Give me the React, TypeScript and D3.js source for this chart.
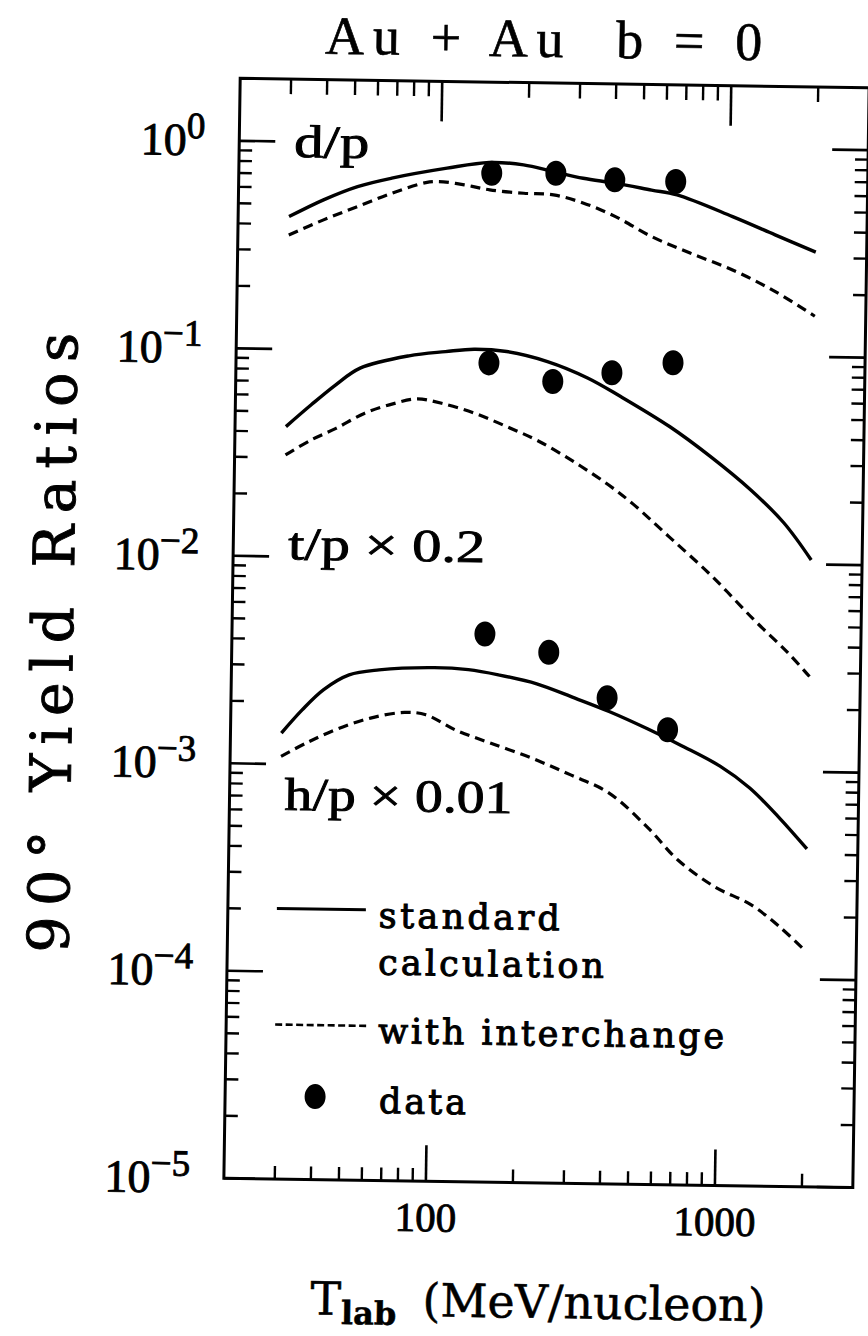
import React from "react";
import * as d3 from "d3";

// Beam energies of the measured points (MeV/nucleon)
const dataEnergies = [150, 250, 400, 650];

// Measured 90° yield ratios
const dpData = [0.728, 0.735, 0.69, 0.684];
const tpData = [0.0887, 0.0729, 0.0811, 0.0915];
const hpData = [0.00438, 0.00361, 0.0022, 0.00156];

// Model curves: [T_lab, ratio]
const dpStandard: [number, number][] = [
  [30, 0.435], [39.4, 0.527], [51.6, 0.614], [67.7, 0.678], [105, 0.764],
  [147, 0.819], [193, 0.803], [245, 0.749], [311, 0.699], [402, 0.665],
  [537, 0.62], [658, 0.59], [1027, 0.468], [1444, 0.385], [2000, 0.32],
];
const dpInterchange: [number, number][] = [
  [30, 0.355], [39.5, 0.422], [51.7, 0.492], [68, 0.574], [88.8, 0.649],
  [98.4, 0.658], [120.7, 0.637], [148, 0.605], [194, 0.586], [246, 0.578],
  [313, 0.53], [404, 0.459], [540, 0.37], [735, 0.31], [1033, 0.259],
  [1456, 0.205], [2000, 0.157],
];
const tpStandard: [number, number][] = [
  [30, 0.0423], [36.6, 0.0541], [44.4, 0.0678], [53.8, 0.0819], [79.3, 0.0947],
  [106, 0.0998], [133, 0.103], [172.5, 0.1009], [239, 0.0909], [331, 0.0761],
  [430, 0.0624], [637, 0.0451], [884, 0.0326], [1226, 0.0226], [1600, 0.0158],
  [2000, 0.0105],
];
const tpInterchange: [number, number][] = [
  [30, 0.0309], [36.8, 0.0367], [44.7, 0.0418], [55.9, 0.0496], [70.1, 0.0554],
  [85, 0.0588], [103.4, 0.0562], [134, 0.0507], [174, 0.0439], [226, 0.0374],
  [303.5, 0.0296], [394, 0.0234], [480, 0.019], [642, 0.0133], [911, 0.0086],
  [1276, 0.00536], [1682, 0.00373], [2000, 0.00288],
];
const hpStandard: [number, number][] = [
  [30, 0.00141], [35.3, 0.00183], [41.8, 0.0023], [51.1, 0.00272], [64.8, 0.00289],
  [100.6, 0.00299], [132, 0.00294], [167.8, 0.00279], [228, 0.00254], [309.7, 0.00218],
  [407, 0.00189], [553.6, 0.00157], [728, 0.00131], [991, 0.00105], [1259, 0.000828],
  [1602, 0.000596], [2000, 0.000425],
];
const hpInterchange: [number, number][] = [
  [30, 0.00109], [36.7, 0.00127], [46.4, 0.00148], [60.9, 0.00169], [79.8, 0.00181],
  [94.6, 0.00177], [120.2, 0.0015], [157.9, 0.00131], [222, 0.00111], [302, 0.00093],
  [411, 0.000765], [565, 0.00052], [715, 0.000369], [960, 0.000276], [1288, 0.000227],
  [1619, 0.000179], [2000, 0.000137],
];

// Axis ticks
const xMajor = [100, 1000];
const xMinor = [30, 40, 50, 60, 70, 80, 90, 200, 300, 400, 500, 600, 700, 800, 900, 2000];
const yExponents = [0, -1, -2, -3, -4, -5];
const yMinorFactors = [2, 3, 4, 5, 6, 7, 8, 9];

// Curve names, anchored at (T, ratio) in data space
const curveLabels = [
  { text: "d/p", t: 31, v: 0.844, len: 75 },
  { text: "t/p × 0.2", t: 31, v: 0.00972, len: 197 },
  { text: "h/p × 0.01", t: 31, v: 0.000603, len: 228 },
];

const W = 868;
const H = 1336;
const left = 232;
const right = 861;
const top = 83;
const bottom = 1183;
const ROT = 0.85;

const x = d3.scaleLog().domain([20, 3000]).range([left, right]);
const y = d3.scaleLog().domain([1e-5, 2]).range([bottom, top]);

const serif = "'Liberation Serif', 'Times New Roman', serif";
const slab = "'DejaVu Serif', serif";

export default function App() {
  const line = d3
    .line<[number, number]>()
    .x((d) => x(d[0]))
    .y((d) => y(d[1]))
    .curve(d3.curveCatmullRom.alpha(0.5));

  const yMinor: number[] = [];
  for (let e = -5; e < 0; e++) {
    for (const k of yMinorFactors) yMinor.push(k * Math.pow(10, e));
  }

  const majLen = 36;
  const minLen = 13;

  const solids = [dpStandard, tpStandard, hpStandard];
  const dashes = [dpInterchange, tpInterchange, hpInterchange];
  const dots = [dpData, tpData, hpData];

  const legendText = (label: string, tx: number, ty: number, len: number) => (
    <text
      x={tx}
      y={ty}
      fontFamily={slab}
      fontSize={35}
      textLength={len}
      lengthAdjust="spacing"
      stroke="#000"
      strokeWidth={1}
    >
      {label}
    </text>
  );

  return (
    <svg
      width={W}
      height={H}
      style={{ position: "absolute", left: 0, top: 0, background: "#fff" }}
    >
      <rect width={W} height={H} fill="#fff" />
      <g transform={`rotate(${ROT} 547 633)`} fill="#000">
        {/* title */}
        <text
          x={535}
          y={57}
          textAnchor="middle"
          fontFamily={serif}
          fontSize={54}
          xmlSpace="preserve"
          textLength={437}
          lengthAdjust="spacing"
          stroke="#000"
          strokeWidth={0.6}
        >
          {"Au + Au  b = 0"}
        </text>

        {/* frame */}
        <rect
          x={left}
          y={top}
          width={right - left}
          height={bottom - top}
          fill="none"
          stroke="#000"
          strokeWidth={3}
        />

        {/* y ticks */}
        {yExponents.map((e) => {
          const yy = y(Math.pow(10, e));
          return (
            <g key={`ym${e}`} stroke="#000" strokeWidth={2.6}>
              <line x1={left} x2={left + majLen} y1={yy} y2={yy} />
              <line x1={right} x2={right - majLen} y1={yy} y2={yy} />
            </g>
          );
        })}
        {yMinor.map((v) => {
          const yy = y(v);
          return (
            <g key={`yn${v}`} stroke="#000" strokeWidth={2.4}>
              <line x1={left} x2={left + minLen} y1={yy} y2={yy} />
              <line x1={right} x2={right - minLen} y1={yy} y2={yy} />
            </g>
          );
        })}

        {/* x ticks */}
        {xMajor.map((t) => {
          const xx = x(t);
          return (
            <g key={`xm${t}`} stroke="#000" strokeWidth={2.6}>
              <line x1={xx} x2={xx} y1={bottom} y2={bottom - majLen} />
              <line x1={xx} x2={xx} y1={top} y2={top + majLen + 4} />
            </g>
          );
        })}
        {xMinor.map((t) => {
          const xx = x(t);
          return (
            <g key={`xn${t}`} stroke="#000" strokeWidth={2.4}>
              <line x1={xx} x2={xx} y1={bottom} y2={bottom - minLen} />
              <line x1={xx} x2={xx} y1={top} y2={top + minLen + 2} />
            </g>
          );
        })}

        {/* y tick labels */}
        {yExponents.map((e) => (
          <text
            key={`yl${e}`}
            x={left - 34}
            y={y(Math.pow(10, e)) + 15}
            textAnchor="end"
            fontFamily={serif}
            fontSize={46}
            stroke="#000"
            strokeWidth={0.9}
          >
            10
            <tspan dy={-17} fontSize={37}>
              {e === 0 ? "0" : `−${-e}`}
            </tspan>
          </text>
        ))}

        {/* x tick labels */}
        {xMajor.map((t) => (
          <text
            key={`xl${t}`}
            x={x(t)}
            y={bottom + 50}
            textAnchor="middle"
            fontFamily={serif}
            fontSize={41}
            stroke="#000"
            strokeWidth={0.9}
          >
            {t}
          </text>
        ))}

        {/* axis titles */}
        <text
          x={548}
          y={1318}
          textAnchor="middle"
          fontFamily={slab}
          fontSize={46}
          stroke="#000"
          strokeWidth={0.5}
        >
          T
          <tspan fontSize={32} dy={9} fontWeight="bold">
            lab
          </tspan>
          <tspan dy={-9} dx={26}>
            (MeV/nucleon)
          </tspan>
        </text>
        <text
          transform={`translate(73 650) rotate(-90)`}
          textAnchor="middle"
          fontFamily={slab}
          fontSize={57}
          textLength={620}
          lengthAdjust="spacing"
          stroke="#000"
          strokeWidth={0.9}
        >
          90° Yield Ratios
        </text>

        {/* model curves */}
        {solids.map((s, i) => (
          <path
            key={`s${i}`}
            d={line(s) ?? ""}
            fill="none"
            stroke="#000"
            strokeWidth={3.4}
          />
        ))}
        {dashes.map((s, i) => (
          <path
            key={`d${i}`}
            d={line(s) ?? ""}
            fill="none"
            stroke="#000"
            strokeWidth={3.2}
            strokeDasharray="10 6"
          />
        ))}

        {/* data points */}
        {dots.map((vals, i) =>
          vals.map((v, j) => (
            <ellipse
              key={`p${i}-${j}`}
              cx={x(dataEnergies[j])}
              cy={y(v)}
              rx={10.5}
              ry={12.5}
              fill="#000"
            />
          ))
        )}

        {/* curve labels */}
        {curveLabels.map((c) => (
          <text
            key={c.text}
            x={x(c.t)}
            y={y(c.v)}
            fontFamily={serif}
            fontSize={46}
            textLength={c.len}
            lengthAdjust="spacingAndGlyphs"
            stroke="#000"
            strokeWidth={0.9}
          >
            {c.text}
          </text>
        ))}

        {/* legend */}
        <line x1={281} x2={370} y1={912.5} y2={912.5} stroke="#000" strokeWidth={3} />
        {legendText("standard", 383, 930, 181)}
        {legendText("calculation", 383, 977, 226)}
        <line
          x1={281}
          x2={374}
          y1={1028.5}
          y2={1028.5}
          stroke="#000"
          strokeWidth={2.6}
          strokeDasharray="7 3.5"
        />
        {legendText("with interchange", 384, 1045.5, 346)}
        <ellipse cx={322} cy={1100} rx={10.5} ry={12.5} fill="#000" />
        {legendText("data", 386, 1115.5, 87)}
      </g>
    </svg>
  );
}
